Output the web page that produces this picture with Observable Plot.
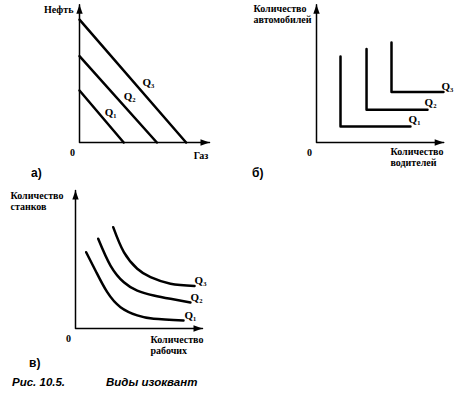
<!DOCTYPE html>
<html>
<head>
<meta charset="utf-8">
<script src="https://cdn.jsdelivr.net/npm/d3@7"></script>
<script src="https://cdn.jsdelivr.net/npm/@observablehq/plot@0.6"></script>
<style>
  html, body { margin: 0; padding: 0; background: #fff; }
  #fig { position: relative; width: 465px; height: 395px; background: #fff; overflow: hidden; }
  #fig svg { position: absolute; background: transparent; overflow: visible; }
  .tag { position: absolute; font-family: "Liberation Sans", Arial, sans-serif; font-weight: bold; font-size: 12px; color: #000; line-height: 1; }
  .cap { position: absolute; font-family: "Liberation Sans", Arial, sans-serif; font-weight: bold; font-style: italic; font-size: 11.5px; color: #000; line-height: 1; white-space: nowrap; }
</style>
</head>
<body>
<div id="fig"></div>
<script>
// ---------- data ----------
const levels = ["Q₁", "Q₂", "Q₃"];

// а) perfect substitutes: straight isoquants (intercepts on the axes)
const aOilIntercept = [3.85, 6.4, 9.1];
const aGasIntercept = [3.4, 5.95, 8.2];
const aLabelX = [2.4, 3.85, 5.3];
const aLabelY = [2.2, 3.4, 4.44];

// б) perfect complements: L-shaped isoquants
const bCornerX = [2.0, 4.17, 6.25];
const bCornerY = [1.19, 2.42, 3.74];
const bTopY = [6.37, 6.93, 7.41];
const bEndX = [7.83, 9.25, 10.58];
const bLabelX = [8.17, 9.5, 10.9];
const bLabelY = [1.7, 2.96, 4.15];

// в) usual convex isoquants (points read from the picture)
const cQ1x = [0.86, 1.69, 2.56, 3.63, 4.98, 6.31, 8.71];
const cQ1y = [5.61, 4.12, 2.67, 1.57, 0.96, 0.71, 0.59];
const cQ2x = [1.83, 2.82, 3.9, 4.98, 6.31, 7.66, 9.27];
const cQ2y = [6.6, 4.63, 3.4, 2.79, 2.43, 2.18, 1.91];
const cQ3x = [3.04, 3.9, 4.98, 6.05, 7.66, 9.6];
const cQ3y = [7.45, 5.61, 4.39, 3.77, 3.29, 3.13];
const cLabelX = [9.27, 9.76, 10.08];
const cLabelY = [0.96, 2.28, 3.53];

// texts
const aAxisY = "Нефть", aAxisX = "Газ";
const bAxisY = "Количество\nавтомобилей", bAxisX = "Количество\nводителей";
const cAxisY = "Количество\nстанков", cAxisX = "Количество\nрабочих";
const panelTags = ["а)", "б)", "в)"];
const captionNum = "Рис. 10.5.";
const captionText = "Виды изоквант";

// ---------- helpers ----------
const serif = "Liberation Serif, Times New Roman, serif";
const arrowUp = {draw(ctx) { ctx.moveTo(0, 0); ctx.lineTo(-3.2, 9); ctx.lineTo(3.2, 9); ctx.closePath(); }};
const arrowRight = {draw(ctx) { ctx.moveTo(0, 0); ctx.lineTo(-9, -3.2); ctx.lineTo(-9, 3.2); ctx.closePath(); }};

function axesMarks(tipX, tipY) {
  return [
    Plot.line([[0, tipY], [0, 0], [tipX, 0]], {stroke: "black", strokeWidth: 1.5}),
    Plot.dot([[0, tipY]], {symbol: arrowUp, fill: "black"}),
    Plot.dot([[tipX, 0]], {symbol: arrowRight, fill: "black"}),
    Plot.text([[0, 0]], {text: ["0"], dx: -7, dy: 10, fontFamily: serif, fontWeight: "bold", fontSize: 10})
  ];
}
function qLabels(xs, ys) {
  return Plot.text(levels.map((t, i) => ({t, x: xs[i], y: ys[i]})),
    {x: "x", y: "y", text: "t", fontFamily: serif, fontWeight: "bold", fontSize: 11});
}

const fig = document.getElementById("fig");
function place(svg, left, top) { svg.style.left = left + "px"; svg.style.top = top + "px"; fig.appendChild(svg); }

// ---------- а ----------
const aRows = levels.flatMap((level, i) => [{level, x: 0, y: aOilIntercept[i]}, {level, x: aGasIntercept[i], y: 0}]);
const plotA = Plot.plot({
  width: 230, height: 175,
  x: {domain: [0, 10], range: [79, 209], axis: null},
  y: {domain: [0, 10], range: [142, 7], axis: null},
  marks: [
    Plot.line(aRows, {x: "x", y: "y", z: "level", stroke: "black", strokeWidth: 2.5}),
    ...axesMarks(10, 10.2),
    qLabels(aLabelX, aLabelY),
    Plot.text([[0, 10.2]], {text: [aAxisY], textAnchor: "end", dx: -6, dy: 5, fontFamily: serif, fontWeight: "bold", fontSize: 10}),
    Plot.text([[10, 0]], {text: [aAxisX], dx: -8.5, dy: 13, fontFamily: serif, fontWeight: "bold", fontSize: 10})
  ]
});
place(plotA, 0, 0);

// ---------- б ----------
const bRows = levels.flatMap((level, i) => [
  {level, x: bCornerX[i], y: bTopY[i]},
  {level, x: bCornerX[i], y: bCornerY[i]},
  {level, x: bEndX[i], y: bCornerY[i]}
]);
const plotB = Plot.plot({
  width: 235, height: 175,
  x: {domain: [0, 10], range: [86, 206], axis: null},
  y: {domain: [0, 10], range: [142, 7], axis: null},
  marks: [
    Plot.line(bRows, {x: "x", y: "y", z: "level", stroke: "black", strokeWidth: 2.5}),
    ...axesMarks(10.6, 10.2),
    qLabels(bLabelX, bLabelY),
    Plot.text([[0, 10.2]], {text: [bAxisY], textAnchor: "start", lineAnchor: "top", lineHeight: 1.15, dx: -63, dy: -1, fontFamily: serif, fontWeight: "bold", fontSize: 10}),
    Plot.text([[0, 0]], {text: [bAxisX], textAnchor: "start", lineAnchor: "top", lineHeight: 1.1, dx: 74, dy: 5, fontFamily: serif, fontWeight: "bold", fontSize: 10})
  ]
});
place(plotB, 230, 0);

// ---------- в ----------
const cRows = [
  ...cQ1x.map((x, i) => ({level: levels[0], x, y: cQ1y[i]})),
  ...cQ2x.map((x, i) => ({level: levels[1], x, y: cQ2y[i]})),
  ...cQ3x.map((x, i) => ({level: levels[2], x, y: cQ3y[i]}))
];
const plotC = Plot.plot({
  width: 230, height: 185,
  x: {domain: [0, 10], range: [75, 199], axis: null},
  y: {domain: [0, 10], range: [148, 12], axis: null},
  marks: [
    Plot.line(cRows, {x: "x", y: "y", z: "level", curve: "natural", stroke: "black", strokeWidth: 2.5}),
    ...axesMarks(10.24, 10.15),
    qLabels(cLabelX, cLabelY),
    Plot.text([[0, 10.15]], {text: [cAxisY], textAnchor: "start", lineAnchor: "top", lineHeight: 1.15, dx: -65, dy: 0, fontFamily: serif, fontWeight: "bold", fontSize: 10}),
    Plot.text([[0, 0]], {text: [cAxisX], textAnchor: "start", lineAnchor: "top", lineHeight: 1.15, dx: 75, dy: 6, fontFamily: serif, fontWeight: "bold", fontSize: 10})
  ]
});
place(plotC, 0, 180);

// ---------- tags & caption ----------
function html(cls, text, left, top) {
  const d = document.createElement("div");
  d.className = cls; d.textContent = text;
  d.style.left = left + "px"; d.style.top = top + "px";
  fig.appendChild(d);
}
html("tag", panelTags[0], 31, 167);
html("tag", panelTags[1], 252, 167);
html("tag", panelTags[2], 29, 357);
html("cap", captionNum, 12, 377);
html("cap", captionText, 106, 377);
</script>
</body>
</html>
